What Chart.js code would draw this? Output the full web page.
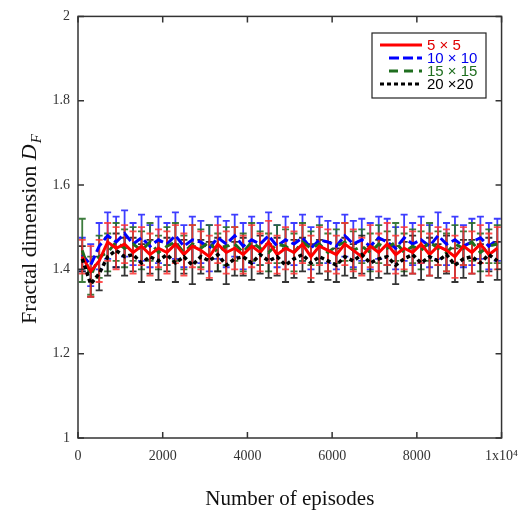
<!DOCTYPE html>
<html>
<head>
<meta charset="utf-8">
<script src="https://cdn.jsdelivr.net/npm/chart.js@4"></script>
<style>
  html, body { margin: 0; padding: 0; background: #fff; }
  canvas { display: block; }
</style>
</head>
<body>
<canvas id="fractal-chart" width="528" height="514"></canvas>
<script>
const episodes = [100, 300, 500, 700, 900, 1100, 1300, 1500, 1700, 1900,
  2100, 2300, 2500, 2700, 2900, 3100, 3300, 3500, 3700, 3900,
  4100, 4300, 4500, 4700, 4900, 5100, 5300, 5500, 5700, 5900,
  6100, 6300, 6500, 6700, 6900, 7100, 7300, 7500, 7700, 7900,
  8100, 8300, 8500, 8700, 8900, 9100, 9300, 9500, 9700, 9900];

const red5 = [1.43, 1.395, 1.42, 1.465, 1.45, 1.46, 1.44, 1.455, 1.435, 1.45,
  1.44, 1.46, 1.435, 1.455, 1.445, 1.43, 1.46, 1.44, 1.45, 1.435,
  1.455, 1.44, 1.465, 1.435, 1.45, 1.44, 1.46, 1.43, 1.455, 1.445,
  1.435, 1.46, 1.445, 1.43, 1.455, 1.44, 1.46, 1.435, 1.45, 1.44,
  1.46, 1.435, 1.455, 1.445, 1.43, 1.455, 1.44, 1.46, 1.435, 1.45];
const red5Err = [0.04, 0.06, 0.05, 0.045, 0.05, 0.045, 0.05, 0.045, 0.05, 0.045,
  0.05, 0.045, 0.05, 0.05, 0.045, 0.05, 0.045, 0.05, 0.05, 0.045,
  0.05, 0.045, 0.05, 0.045, 0.05, 0.05, 0.045, 0.05, 0.045, 0.05,
  0.045, 0.05, 0.05, 0.045, 0.05, 0.045, 0.05, 0.045, 0.05, 0.05,
  0.045, 0.05, 0.045, 0.05, 0.05, 0.045, 0.05, 0.045, 0.05, 0.05];

const blue10 = [1.435, 1.41, 1.455, 1.48, 1.465, 1.485, 1.46, 1.475, 1.455, 1.47,
  1.46, 1.48, 1.455, 1.47, 1.465, 1.45, 1.475, 1.46, 1.48, 1.455,
  1.47, 1.46, 1.48, 1.455, 1.47, 1.46, 1.475, 1.45, 1.47, 1.465,
  1.455, 1.48, 1.46, 1.47, 1.455, 1.475, 1.465, 1.45, 1.475, 1.46,
  1.47, 1.455, 1.48, 1.46, 1.47, 1.455, 1.465, 1.475, 1.455, 1.47];
const blue10Err = [0.04, 0.05, 0.055, 0.055, 0.06, 0.055, 0.05, 0.055, 0.05, 0.055,
  0.05, 0.055, 0.05, 0.055, 0.05, 0.055, 0.05, 0.055, 0.05, 0.055,
  0.055, 0.05, 0.055, 0.05, 0.055, 0.05, 0.055, 0.05, 0.055, 0.05,
  0.055, 0.05, 0.055, 0.05, 0.055, 0.05, 0.055, 0.05, 0.055, 0.05,
  0.055, 0.05, 0.055, 0.05, 0.055, 0.05, 0.055, 0.05, 0.055, 0.05];

const green15 = [1.445, 1.385, 1.43, 1.44, 1.465, 1.45, 1.46, 1.445, 1.465, 1.44,
  1.455, 1.465, 1.44, 1.46, 1.45, 1.465, 1.44, 1.455, 1.46, 1.44,
  1.465, 1.45, 1.44, 1.46, 1.455, 1.44, 1.465, 1.45, 1.46, 1.44,
  1.455, 1.465, 1.445, 1.455, 1.44, 1.46, 1.45, 1.465, 1.44, 1.455,
  1.445, 1.465, 1.45, 1.44, 1.46, 1.45, 1.465, 1.44, 1.455, 1.46];
const green15Err = [0.075, 0.045, 0.05, 0.045, 0.045, 0.045, 0.04, 0.045, 0.045, 0.04,
  0.045, 0.045, 0.04, 0.045, 0.045, 0.04, 0.045, 0.045, 0.04, 0.045,
  0.045, 0.04, 0.045, 0.045, 0.04, 0.045, 0.045, 0.04, 0.045, 0.045,
  0.04, 0.045, 0.045, 0.04, 0.045, 0.045, 0.04, 0.045, 0.045, 0.04,
  0.045, 0.045, 0.04, 0.045, 0.045, 0.04, 0.045, 0.045, 0.04, 0.045];

const black20 = [1.425, 1.365, 1.39, 1.43, 1.445, 1.43, 1.435, 1.415, 1.43, 1.42,
  1.435, 1.415, 1.43, 1.41, 1.43, 1.42, 1.435, 1.41, 1.425, 1.43,
  1.415, 1.435, 1.42, 1.43, 1.41, 1.425, 1.435, 1.415, 1.43, 1.42,
  1.41, 1.43, 1.42, 1.435, 1.415, 1.425, 1.43, 1.41, 1.425, 1.435,
  1.415, 1.43, 1.42, 1.435, 1.41, 1.425, 1.43, 1.415, 1.435, 1.42];
const black20Err = [0.03, 0.03, 0.04, 0.045, 0.04, 0.045, 0.04, 0.045, 0.04, 0.045,
  0.04, 0.045, 0.04, 0.045, 0.04, 0.045, 0.04, 0.045, 0.04, 0.045,
  0.04, 0.045, 0.04, 0.045, 0.04, 0.045, 0.04, 0.045, 0.04, 0.045,
  0.04, 0.045, 0.04, 0.045, 0.04, 0.045, 0.04, 0.045, 0.04, 0.045,
  0.04, 0.045, 0.04, 0.045, 0.04, 0.045, 0.04, 0.045, 0.04, 0.045];

const seriesLabels = ["5 \u00d7 5", "10 \u00d7 10", "15 \u00d7 15", "20 \u00d720"];
const xTicks = [0, 2000, 4000, 6000, 8000, 10000];
const yTicks = [1, 1.2, 1.4, 1.6, 1.8, 2];

const toPoints = (vals) => vals.map((v, i) => ({ x: episodes[i], y: v }));

// error bars, drawn under the lines
const errorBars = {
  id: "errorBars",
  beforeDatasetsDraw(chart) {
    const { ctx, scales } = chart;
    const drawOrder = [1, 2, 3, 0];
    ctx.save();
    ctx.beginPath();
    ctx.rect(chart.chartArea.left, chart.chartArea.top, chart.chartArea.width, chart.chartArea.height);
    ctx.clip();
    drawOrder.forEach((di) => {
      const ds = chart.data.datasets[di];
      ctx.strokeStyle = ds.errColor;
      ctx.lineWidth = 1.8;
      ds.data.forEach((p, i) => {
        const e = ds.errors[i];
        const x = scales.x.getPixelForValue(p.x);
        const yTop = scales.y.getPixelForValue(p.y + e);
        const yBot = scales.y.getPixelForValue(p.y - e);
        ctx.beginPath();
        ctx.moveTo(x, yTop); ctx.lineTo(x, yBot);
        ctx.moveTo(x - 3.5, yTop); ctx.lineTo(x + 3.5, yTop);
        ctx.moveTo(x - 3.5, yBot); ctx.lineTo(x + 3.5, yBot);
        ctx.stroke();
      });
    });
    ctx.restore();
  },
};

// box, inward ticks, axis titles and the framed legend
const frame = {
  id: "frame",
  afterDraw(chart) {
    const { ctx, chartArea: a, scales } = chart;
    ctx.save();
    ctx.strokeStyle = "#333";
    ctx.lineWidth = 1.5;
    ctx.strokeRect(a.left, a.top, a.width, a.height);
    ctx.beginPath();
    xTicks.forEach((t) => {
      const x = scales.x.getPixelForValue(t);
      ctx.moveTo(x, a.bottom); ctx.lineTo(x, a.bottom - 6);
      ctx.moveTo(x, a.top); ctx.lineTo(x, a.top + 6);
    });
    yTicks.forEach((t) => {
      const y = scales.y.getPixelForValue(t);
      ctx.moveTo(a.left, y); ctx.lineTo(a.left + 6, y);
      ctx.moveTo(a.right, y); ctx.lineTo(a.right - 6, y);
    });
    ctx.stroke();

    // x title
    ctx.fillStyle = "#111";
    ctx.font = "21px 'Liberation Serif'";
    ctx.textAlign = "center";
    ctx.textBaseline = "alphabetic";
    ctx.fillText("Number of episodes", (a.left + a.right) / 2, 505);

    // y title with D_F
    ctx.translate(36, 229);
    ctx.rotate(-Math.PI / 2);
    const main = "Fractal dimension ";
    ctx.font = "22px 'Liberation Serif'";
    const w1 = ctx.measureText(main).width;
    ctx.font = "italic 22px 'Liberation Serif'";
    const w2 = ctx.measureText("D").width;
    ctx.font = "italic 15px 'Liberation Serif'";
    const w3 = ctx.measureText("F").width;
    let sx = -(w1 + w2 + w3 + 1) / 2;
    ctx.textAlign = "left";
    ctx.font = "22px 'Liberation Serif'";
    ctx.fillText(main, sx, 0);
    sx += w1;
    ctx.font = "italic 22px 'Liberation Serif'";
    ctx.fillText("D", sx, 0);
    sx += w2 + 1;
    ctx.font = "italic 15px 'Liberation Serif'";
    ctx.fillText("F", sx, 5);
    ctx.setTransform(1, 0, 0, 1, 0, 0);

    // legend
    ctx.fillStyle = "#fff";
    ctx.fillRect(372, 33, 114, 65);
    ctx.strokeStyle = "#222";
    ctx.lineWidth = 1.2;
    ctx.strokeRect(372, 33, 114, 65);
    const rows = [45, 58, 71, 84];
    const starts = [380, 389, 389, 380];
    ctx.font = "15px 'Liberation Sans'";
    ctx.textBaseline = "middle";
    ctx.textAlign = "left";
    chart.data.datasets.forEach((ds, i) => {
      ctx.strokeStyle = ds.borderColor;
      ctx.lineWidth = 3;
      ctx.setLineDash(ds.borderDash || []);
      ctx.beginPath();
      ctx.moveTo(starts[i], rows[i]);
      ctx.lineTo(422, rows[i]);
      ctx.stroke();
      ctx.setLineDash([]);
      ctx.fillStyle = ds.textColor;
      ctx.fillText(ds.label, 427, rows[i] + 1);
    });
    ctx.restore();
  },
};

const fractalChart = new Chart(document.getElementById("fractal-chart"), {
  type: "line",
  data: {
    datasets: [
      {
        label: seriesLabels[0],
        data: toPoints(red5),
        errors: red5Err,
        borderColor: "#ff0000",
        errColor: "rgba(255, 50, 50, 0.85)",
        textColor: "#e00000",
        borderWidth: 3,
        order: 1,
      },
      {
        label: seriesLabels[1],
        data: toPoints(blue10),
        errors: blue10Err,
        borderColor: "#0000ff",
        errColor: "rgba(40, 40, 255, 0.9)",
        textColor: "#0000ee",
        borderDash: [10, 4],
        borderWidth: 3,
        order: 4,
      },
      {
        label: seriesLabels[2],
        data: toPoints(green15),
        errors: green15Err,
        borderColor: "#1f6e1f",
        errColor: "rgba(40, 110, 40, 0.9)",
        textColor: "#1f6e1f",
        borderDash: [9, 6],
        borderWidth: 3,
        order: 3,
      },
      {
        label: seriesLabels[3],
        data: toPoints(black20),
        errors: black20Err,
        borderColor: "#000000",
        errColor: "rgba(30, 30, 30, 0.9)",
        textColor: "#000000",
        borderDash: [4, 3],
        borderWidth: 3.5,
        order: 0,
      },
    ],
  },
  options: {
    responsive: false,
    animation: false,
    layout: { padding: { top: 14, right: 25, left: 0, bottom: 0 } },
    elements: { point: { radius: 0 }, line: { tension: 0 } },
    plugins: {
      legend: { display: false },
      tooltip: { enabled: false },
    },
    scales: {
      x: {
        type: "linear",
        min: 0,
        max: 10000,
        afterFit: (s) => { s.height = 76; },
        afterBuildTicks: (s) => { s.ticks = xTicks.map((v) => ({ value: v })); },
        grid: { display: false, drawTicks: false },
        border: { display: false },
        ticks: {
          padding: 10,
          color: "#333",
          font: { family: "'Liberation Serif'", size: 14 },
          maxRotation: 0,
          callback: (v) => (v === 10000 ? "1x10\u2074" : String(v)),
        },
      },
      y: {
        min: 1,
        max: 2,
        afterFit: (s) => { s.width = 78; },
        afterBuildTicks: (s) => { s.ticks = yTicks.map((v) => ({ value: v })); },
        grid: { display: false, drawTicks: false },
        border: { display: false },
        ticks: {
          padding: 8,
          color: "#333",
          font: { family: "'Liberation Serif'", size: 14 },
          callback: (v) => (Number.isInteger(v) ? String(v) : v.toFixed(1)),
        },
      },
    },
  },
  plugins: [errorBars, frame],
});
</script>
</body>
</html>
